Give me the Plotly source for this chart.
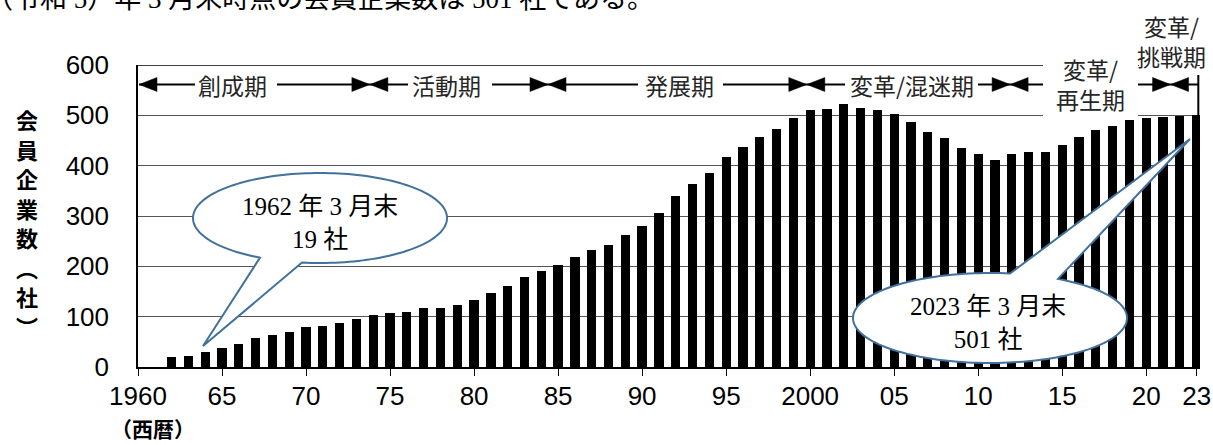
import numpy as np
import plotly.graph_objects as go

# ---------------- data ----------------
years = list(range(1962, 2024))
members = [19, 22, 30, 38, 46, 57, 64, 69, 79, 82, 87, 95, 103, 108, 110, 117, 118, 123,
           133, 148, 161, 178, 191, 203, 219, 233, 242, 262, 280, 306, 340, 364, 386, 417,
           437, 456, 472, 495,
           511, 513, 522, 515, 510, 503, 486, 467, 454, 436, 424, 411, 424, 427, 428, 442,
           457, 471, 478, 490, 495, 497, 499, 501]
tick_years = [1960, 1965, 1970, 1975, 1980, 1985, 1990, 1995, 2000, 2005, 2010, 2015, 2020, 2023]
tick_labels = ["1960", "65", "70", "75", "80", "85", "90", "95", "2000", "05", "10", "15", "20", "23"]
y_ticks = [0, 100, 200, 300, 400, 500, 600]
period_names = ["創成期", "活動期", "発展期", "変革/混迷期", "変革/<br>再生期", "変革/<br>挑戦期"]
period_bounds = [1960, 1973.8, 1984.4, 1999.8, 2011.9, 2021.45, 2023.1]
y_title_chars = ["会", "員", "企", "業", "数", "︵", "社", "︶"]

# ---------------- geometry helpers (pixel <-> data) ----------------
W, H = 1213, 445
ML, MR, MT, MB = 138, 13, 65, 78
XMIN, XMAX = 1960, 2023.2
YMIN, YMAX = 0, 600
PW = W - ML - MR
PH = H - MT - MB
PXY = PW / (XMAX - XMIN)
PYU = PH / (YMAX - YMIN)


def dx(X):
    return XMIN + (X - ML) / PXY


def dy(Y):
    return YMIN + (MT + PH - Y) / PYU


def xd2px(x):
    return ML + (x - XMIN) * PXY


def px_paper(X):
    return (X - ML) / PW


def py_paper(Y):
    return (MT + PH - Y) / PH


fig = go.Figure(go.Bar(x=years, y=members, width=0.55,
                       marker=dict(color="black", line=dict(width=0))))

TICKFONT = dict(family="Liberation Sans, Arial, sans-serif", size=26, color="black")
fig.update_layout(width=W, height=H, margin=dict(l=ML, r=MR, t=MT, b=MB, autoexpand=False),
                  plot_bgcolor="white", paper_bgcolor="white", showlegend=False,
                  bargap=0)
fig.update_xaxes(range=[XMIN, XMAX], tickvals=tick_years, ticktext=tick_labels,
                 ticks="outside", ticklen=7, tickwidth=1.2, tickcolor="black",
                 showline=True, linecolor="black", linewidth=1.5, showgrid=False,
                 zeroline=False, tickfont=TICKFONT, tickangle=0, automargin=False,
                 ticklabeloverflow="allow", ticklabelstandoff=-2)
fig.update_yaxes(range=[YMIN, YMAX], tickvals=y_ticks, showgrid=True, gridcolor="#555555",
                 gridwidth=1, showline=True, linecolor="black", linewidth=1.5,
                 zeroline=False, ticks="", ticklabelstandoff=22, tickfont=TICKFONT,
                 automargin=False)

shapes = []
annotations = []

# top line at 600
shapes.append(dict(type="line", xref="x", yref="y", x0=XMIN, x1=XMAX, y0=600, y1=600,
                   line=dict(color="black", width=1.5), layer="above"))

# ---------------- period arrows ----------------
ROW = 84.5
yrow = dy(ROW)
AL, AH = 18, 7
gaps = [(195, 277), (408, 492), (638, 723), (845, 978), (1043, 1138), None]
label_pos = [(232, ROW), (446, ROW), (679, ROW), (912, ROW), (1090, 84), (1171, 41)]
LINE = dict(color="black", width=2)


def head(tip_px, direction):
    # direction -1 = pointing left, +1 = pointing right
    bx = tip_px - direction * AL
    return dict(type="path", xref="x", yref="y", layer="above",
                path=f"M{dx(tip_px)},{yrow} L{dx(bx)},{dy(ROW - AH)} L{dx(bx)},{dy(ROW + AH)} Z",
                fillcolor="black", line=dict(color="black", width=0.5))


for i, name in enumerate(period_names):
    x0p = xd2px(period_bounds[i])
    x1p = xd2px(period_bounds[i + 1])
    if i == 0:
        x0p = 139
    last = i == len(period_names) - 1
    g = gaps[i]
    segs = [(x0p, x1p)] if g is None else [(x0p, g[0]), (g[1], x1p)]
    for a, b in segs:
        shapes.append(dict(type="line", xref="x", yref="y", x0=dx(a), x1=dx(b), y0=yrow, y1=yrow,
                           line=LINE, layer="above"))
    shapes.append(head(x0p, -1))
    if not last:
        shapes.append(head(x1p, +1))
    else:
        shapes.append(dict(type="line", xref="x", yref="y", x0=dx(x1p), x1=dx(x1p),
                           y0=dy(75), y1=0, line=dict(color="black", width=2), layer="above"))

# white boxes behind the two stacked labels
shapes.append(dict(type="rect", xref="paper", yref="paper", x0=px_paper(1043), x1=px_paper(1138),
                   y0=py_paper(116.5), y1=py_paper(50), fillcolor="white",
                   line=dict(width=0), layer="above"))
shapes.append(dict(type="rect", xref="paper", yref="paper", x0=px_paper(1139), x1=px_paper(1196),
                   y0=py_paper(72), y1=py_paper(5), fillcolor="white",
                   line=dict(width=0), layer="above"))

LABFONT = dict(family="Noto Sans CJK JP, sans-serif", size=23, color="#262626")
for name, (cx, cy) in zip(period_names, label_pos):
    annotations.append(dict(x=px_paper(cx), y=py_paper(cy), xref="paper", yref="paper",
                            text=name, showarrow=False, xanchor="center", align="center",
                            yanchor="middle", font=LABFONT))


# ---------------- callouts ----------------
def callout(cx, cy, rx, ry, xa, xb, tip, side):
    def ang(x):
        c = (x - cx) / rx
        s = side * np.sqrt(max(0.0, 1 - c * c))
        return np.arctan2(s, c)

    ta, tb = ang(xa), ang(xb)
    d = (ta - tb) % (2 * np.pi)
    if d < np.pi:
        th = np.linspace(tb, tb - (2 * np.pi - d), 160)
    else:
        th = np.linspace(tb, tb + d, 160)
    pa = (cx + rx * np.cos(ta), cy + ry * np.sin(ta))
    pts = [pa, tip] + [(cx + rx * np.cos(t), cy + ry * np.sin(t)) for t in th]
    path = "M" + " L".join(f"{dx(X):.4f},{dy(Y):.3f}" for X, Y in pts) + " Z"
    return dict(type="path", xref="x", yref="y", path=path, fillcolor="white",
                line=dict(color="#41719C", width=2), layer="above")


shapes.append(callout(320, 218, 127, 45, 260, 302, (203, 346), +1))
shapes.append(callout(990, 318, 137, 45, 1010, 1058, (1190, 139), -1))

CFONT = dict(family="Liberation Serif, Noto Sans CJK JP, serif", size=25, color="black")
annotations.append(dict(x=px_paper(320), y=py_paper(222.5), xref="paper", yref="paper",
                        text="1962 年 3 月末<br>19 社", showarrow=False, xanchor="center",
                        yanchor="middle", font=CFONT, align="center"))
annotations.append(dict(x=px_paper(988), y=py_paper(322.5), xref="paper", yref="paper",
                        text="2023 年 3 月末<br>501 社", showarrow=False, xanchor="center",
                        yanchor="middle", font=CFONT, align="center"))

# ---------------- titles ----------------
TFONT = dict(family="Noto Sans CJK JP, sans-serif", size=22, color="black")
for k, ch in enumerate(y_title_chars):
    annotations.append(dict(x=px_paper(27), y=py_paper(119 + 29.5 * k), xref="paper", yref="paper",
                            text=f"<b>{ch}</b>", showarrow=False, xanchor="center",
                            yanchor="middle", font=TFONT))
annotations.append(dict(x=px_paper(153), y=py_paper(428), xref="paper", yref="paper",
                        text="<b>（西暦）</b>", showarrow=False, xanchor="center", yanchor="middle",
                        font=dict(family="Noto Sans CJK JP, sans-serif", size=21, color="black")))
annotations.append(dict(x=px_paper(-16), y=py_paper(-1), xref="paper", yref="paper",
                        text="（令和 5）年 3 月末時点の会員企業数は 501 社である。",
                        showarrow=False, xanchor="left", yanchor="middle",
                        font=dict(family="Liberation Serif, Noto Sans CJK JP, serif", size=27,
                                  color="black")))

fig.update_layout(shapes=shapes, annotations=annotations)
fig.write_html("out.html")
